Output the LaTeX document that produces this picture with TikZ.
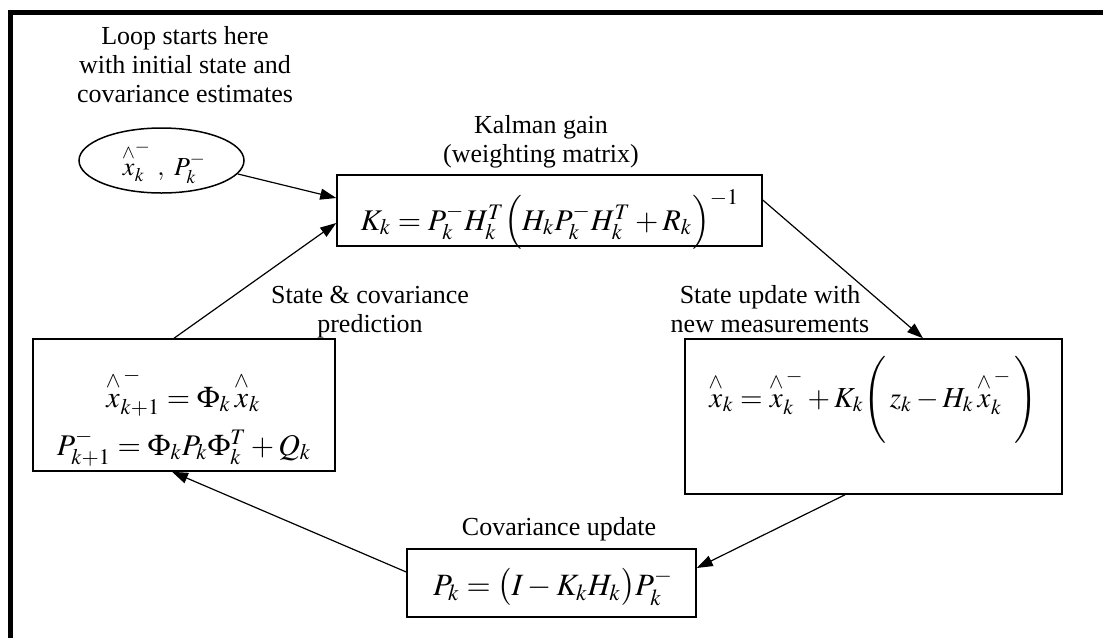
\documentclass[tikz,border=0pt]{standalone}
\usepackage{amsmath}
\usepackage{mathptmx}
\usepackage[no-math]{fontspec}
\setmainfont{Liberation Serif}
\usetikzlibrary{arrows.meta,shapes.geometric}
\newcommand{\hx}{\overset{\wedge}{x}}
\begin{document}
\begin{tikzpicture}[x=0.5pt,y=-0.5pt,
  box/.style={draw,line width=0.75pt,inner sep=0pt},
  lbl/.style={font=\fontsize{13}{14.5}\selectfont,align=center,inner sep=0pt,anchor=base},
  fml/.style={font=\fontsize{#1}{#1}\selectfont,inner sep=0pt,anchor=base},
  conn/.style={line width=0.6pt,-{Triangle[length=8pt,width=5.5pt]}},
  frameline/.style={line width=2.5pt,line join=miter}]
\useasboundingbox (0,0) rectangle (1103,638);
\draw[frameline] (10.5,638) -- (10.5,12.5) -- (1103,12.5);

% boxes
\node[draw,ellipse,line width=0.75pt,minimum width=82.5pt,minimum height=32.5pt,inner sep=0pt] (ell) at (161.5,160.5) {};
\node[box,minimum width=212.5pt,minimum height=35.5pt] (kal) at (549.5,210.5) {};
\node[box,minimum width=151pt,minimum height=66pt] (pred) at (184,405) {};
\node[box,minimum width=188.5pt,minimum height=77.5pt] (upd) at (873.5,416.5) {};
\node[box,minimum width=144.5pt,minimum height=34pt] (cov) at (551.5,583) {};

% formulas
\node[fml=13] (ellf) at (164,175) {$\hx_k^-\ ,\ P_k^-$};
\node[fml=15] (kalf) at (550,230) {$K_k = P_k^- H_k^T \Bigl(H_k P_k^- H_k^T + R_k\Bigr)^{-1}$};
\node[fml=15] (predf1) at (183,407) {$\hx^{\,-}_{k+1} = \Phi_k\, \hx_k$};
\node[fml=15] (predf2) at (184,455) {$P^-_{k+1} = \Phi_k P_k \Phi_k^T + Q_k$};
\node[fml=14.5] (updf) at (873,407) {$\hx_k = \hx^{\,-}_k + K_k \Biggl(\, z_k - H_k\, \hx^{\,-}_k \,\Biggr)$};
\node[fml=15.5] (covf) at (553,595) {$P_k = \bigl(I - K_k H_k\bigr) P_k^-$};

% labels (anchor base = last line)
\node[lbl] (l1) at (185,102) {Loop starts here\\with initial state and\\covariance estimates};
\node[lbl] (l2) at (541,162) {Kalman gain\\(weighting matrix)};
\node[lbl] (l3) at (370,332) {State \& covariance\\prediction};
\node[lbl] (l4) at (770,332) {State update with\\new measurements};
\node[lbl] (l5) at (559,535) {Covariance update};

% connectors
\draw[conn] (ell.-10) -- ([yshift=6.25pt]kal.west);
\draw[conn] ([xshift=-5pt]pred.north) -- ([yshift=-6.25pt]kal.west);
\draw[conn] ([yshift=5.25pt]kal.east) -- ([xshift=24.75pt]upd.north);
\draw[conn] ([xshift=-14.25pt]upd.south) -- ([yshift=7.5pt]cov.east);
\draw[conn] ([yshift=5.5pt]cov.west) -- ([xshift=-6pt]pred.south);
\end{tikzpicture}
\end{document}
